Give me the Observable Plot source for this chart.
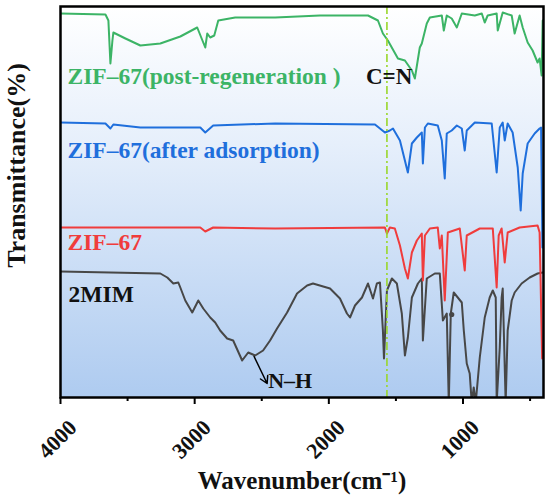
<!DOCTYPE html>
<html>
<head>
<meta charset="utf-8">
<script src="https://cdn.jsdelivr.net/npm/d3@7"></script>
<script src="https://cdn.jsdelivr.net/npm/@observablehq/plot@0.6"></script>
<style>
  html, body { margin: 0; padding: 0; background: #ffffff; }
  #chart { width: 550px; height: 499px; }
</style>
</head>
<body>
<div id="chart"></div>
<script>
// ---- Data (wavenumber cm-1, offset transmittance, arbitrary units) ----
const postRegeneration = [
  [4000,38.4],[3665,38.3],[3643,37.7],[3628,33.4],[3613,35.7],[3606,36.5],[3516,35.9],[3405,35.2],
  [3256,35.4],[3107,36.1],[2981,37.0],[2921,35.0],[2906,36.4],[2884,36.0],[2854,36.2],[2824,37.7],
  [2698,38.0],[2400,38.0],[2066,38.2],[1708,38.2],[1634,37.7],[1597,36.4],[1560,35.7],[1485,33.9],
  [1433,33.7],[1381,32.7],[1359,31.9],[1322,35.0],[1307,35.4],[1270,37.4],[1247,38.0],[1158,38.2],
  [1143,36.7],[1121,38.2],[1084,37.9],[1046,37.0],[1009,38.4],[912,38.2],[860,38.4],[838,37.5],
  [816,38.2],[749,38.4],[741,36.7],[704,38.5],[637,38.2],[615,36.4],[578,38.2],[555,37.0],
  [518,35.5],[481,34.7],[444,33.5],[429,33.9],[414,32.2],[406,37.7]
];
const afterAdsorption = [
  [4000,27.5],[3665,27.4],[3628,26.9],[3606,27.3],[3405,27.0],[2958,27.0],[2921,26.5],[2862,27.2],
  [2400,27.4],[1656,27.3],[1582,26.5],[1545,26.7],[1522,26.9],[1470,25.7],[1411,22.5],[1381,25.4],
  [1344,26.0],[1307,26.5],[1299,23.4],[1284,27.0],[1262,27.4],[1188,27.2],[1158,25.7],[1136,21.9],
  [1121,26.4],[1084,26.7],[1046,27.2],[1009,26.9],[987,24.7],[972,26.7],[912,27.5],[786,27.4],
  [749,22.5],[726,27.0],[704,27.5],[689,25.7],[667,27.4],[630,26.5],[592,23.0],[570,18.7],
  [555,22.4],[518,25.4],[466,26.4],[429,26.9],[418,27.0],[408,15.0]
];
const zif67 = [
  [4000,17.0],[2958,17.0],[2921,16.6],[2862,17.0],[2400,16.9],[1582,17.0],[1567,16.4],[1545,17.0],
  [1508,16.9],[1470,15.2],[1433,12.9],[1411,11.9],[1381,14.5],[1344,15.7],[1307,16.4],[1299,11.7],
  [1284,16.2],[1247,16.9],[1188,17.0],[1173,14.9],[1158,16.2],[1136,9.7],[1113,16.5],[1024,16.9],
  [987,12.7],[972,16.2],[875,16.9],[778,16.9],[749,11.0],[734,16.2],[712,16.9],[689,13.5],
  [667,16.5],[578,17.0],[444,17.2],[429,16.5],[410,3.9]
];
const mim2 = [
  [4000,12.6],[3256,12.4],[3204,12.0],[3159,11.4],[3122,11.5],[3107,11.0],[3070,9.7],[3018,8.5],
  [2973,9.7],[2936,8.9],[2884,8.0],[2847,7.5],[2810,6.7],[2758,5.9],[2713,5.7],[2646,3.7],
  [2601,4.5],[2549,4.2],[2490,4.7],[2438,5.7],[2386,6.9],[2311,8.5],[2237,10.4],[2162,11.2],
  [2118,11.4],[1991,10.9],[1917,9.9],[1865,8.4],[1842,8.0],[1805,9.2],[1753,10.0],[1708,11.4],
  [1671,9.9],[1642,11.4],[1619,11.5],[1597,6.7],[1589,3.9],[1567,10.7],[1530,11.9],[1493,11.4],
  [1456,8.4],[1433,4.2],[1411,6.0],[1381,10.0],[1336,11.4],[1307,11.9],[1299,5.7],[1270,11.9],
  [1210,12.4],[1173,12.4],[1150,7.7],[1121,8.4],[1106,-0.5],[1091,8.4],[1069,10.5],[1039,10.0],
  [1009,9.5],[994,6.7],[972,3.4],[950,2.4],[935,-0.5],[920,1.0],[905,-0.5],[875,4.0],
  [838,8.0],[801,10.0],[778,10.7],[756,10.0],[749,-0.5],[726,5.0],[712,10.0],[704,10.9],
  [682,-0.5],[667,6.7],[637,9.7],[615,10.5],[563,11.4],[503,12.0],[444,12.4],[406,12.5]
];
const mimMarker = [[1084, 8.3]];

const seriesLabels = ["ZIF\u201367(post-regeneration )", "ZIF\u201367(after adsorption)", "ZIF\u201367", "2MIM"];
const cnBand = [1567];
const majorTicks = [4000, 3000, 2000, 1000];
const minorTicks = [3500, 2500, 1500, 500];

const colGreen = "#3cb466", colBlue = "#1f6fdc", colRed = "#f03c3c", colBlack = "#474747";
const serif = "'Liberation Serif', 'Times New Roman', serif";

const chart = Plot.plot({
  width: 550,
  height: 499,
  marginTop: 6,
  marginBottom: 102,
  marginLeft: 60,
  marginRight: 7,
  x: {domain: [4000, 400], axis: null},
  y: {domain: [0, 39.1], axis: null},
  style: {fontFamily: serif, background: "#ffffff", color: "black"},
  marks: [
    Plot.frame({fill: "url(#bgGrad)"}),
    Plot.line(mim2, {x: "0", y: "1", stroke: colBlack, strokeWidth: 2, clip: true}),
    Plot.dot(mimMarker, {x: "0", y: "1", r: 2.6, fill: colBlack, stroke: "none"}),
    Plot.line(zif67, {x: "0", y: "1", stroke: colRed, strokeWidth: 2, clip: true}),
    Plot.line(afterAdsorption, {x: "0", y: "1", stroke: colBlue, strokeWidth: 2, clip: true}),
    Plot.line(postRegeneration, {x: "0", y: "1", stroke: colGreen, strokeWidth: 2, clip: true}),
    Plot.ruleX(cnBand, {stroke: "#9ad62b", strokeWidth: 1.6, strokeDasharray: "8,3,2,3"}),
    // series labels
    Plot.text([seriesLabels[0]], {x: 3948, y: 32.1, textAnchor: "start", lineAnchor: "middle", fill: colGreen, fontSize: 23.5, fontWeight: "bold"}),
    Plot.text([seriesLabels[1]], {x: 3948, y: 24.7, textAnchor: "start", lineAnchor: "middle", fill: colBlue, fontSize: 23.5, fontWeight: "bold"}),
    Plot.text([seriesLabels[2]], {x: 3948, y: 15.5, textAnchor: "start", lineAnchor: "middle", fill: colRed, fontSize: 23.5, fontWeight: "bold"}),
    Plot.text([seriesLabels[3]], {x: 3940, y: 10.3, textAnchor: "start", lineAnchor: "middle", fill: "#111111", fontSize: 23.5, fontWeight: "bold"}),
    // annotations
    Plot.text(["C=N"], {x: 1723, y: 32.1, textAnchor: "start", lineAnchor: "middle", fill: "#111111", fontSize: 23, fontWeight: "bold"}),
    Plot.text(["N\u2013H"], {x: 2452, y: 1.7, textAnchor: "start", lineAnchor: "middle", fill: "#111111", fontSize: 22, fontWeight: "bold"}),
    Plot.arrow([0], {x1: 2557, y1: 4.1, x2: 2460, y2: 1.4, stroke: "black", strokeWidth: 1.5, headLength: 8}),
    // frame and axes
    Plot.frame({stroke: "#000000", strokeWidth: 2.5}),
    Plot.axisX({ticks: majorTicks, tickSize: 7, strokeWidth: 2, tickFormat: () => "", label: null}),
    Plot.axisX({ticks: minorTicks, tickSize: 4, strokeWidth: 2, tickFormat: () => "", label: null}),
    Plot.text(majorTicks, {x: d => d, frameAnchor: "bottom", dy: 42, dx: -3, rotate: -45, text: d => String(d),
      fontSize: 22, fontWeight: "bold", fill: "#111111", textAnchor: "middle", lineAnchor: "middle"}),
    Plot.text(["Wavenumber(cm\u207B\u00B9)"], {frameAnchor: "bottom", dy: 83, fontSize: 25, fontWeight: "bold", fill: "#111111",
      textAnchor: "middle", lineAnchor: "middle"}),
    Plot.text(["Transmittance(%)"], {frameAnchor: "left", y: 23.2, dx: -44, rotate: -90, fontSize: 26, fontWeight: "bold", fill: "#111111",
      textAnchor: "middle", lineAnchor: "middle"})
  ]
});

d3.select(chart).insert("defs", ":first-child").html(
  '<linearGradient id="bgGrad" x1="0" y1="0" x2="0" y2="1">' +
  '<stop offset="0" stop-color="#ffffff"/>' +
  '<stop offset="0.35" stop-color="#e6effb"/>' +
  '<stop offset="1" stop-color="#aecbf0"/>' +
  '</linearGradient>'
);

document.getElementById("chart").appendChild(chart);
</script>
</body>
</html>
